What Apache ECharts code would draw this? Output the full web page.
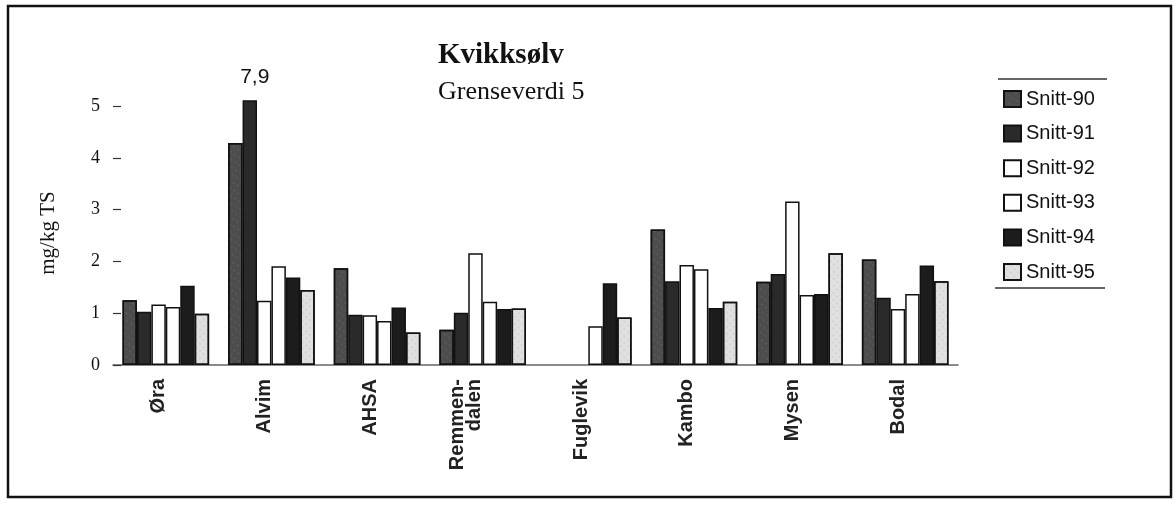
<!DOCTYPE html>
<html>
<head>
<meta charset="utf-8">
<script src="https://cdn.jsdelivr.net/npm/echarts@6/dist/echarts.min.js"></script>
<style>
html, body { margin: 0; padding: 0; background: #fff; }
#chart { width: 1176px; height: 506px; }
</style>
</head>
<body>
<div id="chart"></div>
<script>
const categories = ['Øra', 'Alvim', 'AHSA', 'Remmen-\ndalen', 'Fuglevik', 'Kambo', 'Mysen', 'Bodal']
const snitt90 = [1.25, 4.29, 1.87, 0.68, null, 2.62, 1.61, 2.04]
const snitt91 = [1.03, 7.9, 0.97, 1.01, null, 1.62, 1.76, 1.30]
const snitt92 = [1.17, 1.24, 0.96, 2.16, null, 1.93, 3.16, 1.08]
const snitt93 = [1.12, 1.91, 0.85, 1.22, 0.75, 1.85, 1.35, 1.37]
const snitt94 = [1.53, 1.69, 1.11, 1.08, 1.58, 1.10, 1.37, 1.92]
const snitt95 = [0.99, 1.45, 0.63, 1.09, 0.92, 1.22, 2.16, 1.62]
const yTicks = [0, 1, 2, 3, 4, 5]

const serif = "'Liberation Serif', 'Times New Roman', serif"
const sans = "'Liberation Sans', Arial, sans-serif"

const speckle = {
    symbol: 'circle',
    symbolSize: 0.5,
    color: 'rgba(255,255,255,0.35)',
    dashArrayX: [2, 3],
    dashArrayY: [2, 4],
    rotation: 0.6
}
const dots = {
    symbol: 'circle',
    symbolSize: 0.6,
    color: 'rgba(0,0,0,0.25)',
    dashArrayX: [2, 3],
    dashArrayY: [2, 3],
    rotation: 0.8
}

function bar (name, data, color, decal) {
    const s = {
        name: name,
        type: 'bar',
        data: data,
        barGap: 0,
        barCategoryGap: '18%',
        itemStyle: {
            color: color,
            borderColor: '#111',
            borderWidth: 1.5
        }
    }
    if (decal) s.itemStyle.decal = decal
    return s
}

const series = [
    bar('Snitt-90', snitt90, '#4d4d4d', speckle),
    bar('Snitt-91', snitt91.map((v, i) => i === 1
        ? { value: v, label: { show: true, position: 'top', distance: 13, offset: [5, 0], formatter: '7,9', fontFamily: sans, fontSize: 21, color: '#111' } }
        : v), '#2a2a2a'),
    bar('Snitt-92', snitt92, '#ffffff'),
    bar('Snitt-93', snitt93, '#ffffff'),
    bar('Snitt-94', snitt94, '#1c1c1c'),
    bar('Snitt-95', snitt95, '#e0e0e0', dots)
]

const labelFont = { fontFamily: sans, fontSize: 20, fontWeight: 'bold', color: '#222' }

const option = {
    animation: false,
    backgroundColor: '#fff',
    title: {
        text: 'Kvikksølv',
        subtext: 'Grenseverdi 5',
        left: 433,
        top: 36,
        itemGap: 9,
        textStyle: { fontFamily: serif, fontSize: 29, fontWeight: 'bold', color: '#111' },
        subtextStyle: { fontFamily: serif, fontSize: 26, color: '#111' }
    },
    legend: {
        orient: 'vertical',
        left: 998,
        top: 84,
        itemWidth: 17,
        itemHeight: 16,
        itemGap: 14.6,
        icon: 'rect',
        textStyle: { fontFamily: sans, fontSize: 20, color: '#111' },
        data: ['Snitt-90', 'Snitt-91', 'Snitt-92', 'Snitt-93', 'Snitt-94', 'Snitt-95']
    },
    grid: { left: 113, width: 845, top: 101, height: 264 },
    xAxis: {
        type: 'category',
        data: categories,
        axisLine: { lineStyle: { color: '#666', width: 1.5 } },
        axisTick: { show: false },
        axisLabel: {
            rotate: 90,
            margin: 14,
            interval: 0,
            verticalAlign: 'bottom',
            formatter: function (v) {
                if (v.indexOf('\n') < 0) return '{s|' + v + '}'
                return v.split('\n').map(p => '{m|' + p + '}').join('\n')
            },
            rich: {
                s: Object.assign({ lineHeight: 14 }, labelFont),
                m: Object.assign({ lineHeight: 17 }, labelFont)
            }
        }
    },
    yAxis: {
        type: 'value',
        min: 0,
        max: 5.1,
        name: 'mg/kg TS',
        nameLocation: 'middle',
        nameRotate: 90,
        nameGap: 54,
        nameTextStyle: { fontFamily: serif, fontSize: 21, color: '#111' },
        splitLine: { show: false },
        axisLine: { show: false },
        axisTick: { show: true, inside: true, length: 8, customValues: yTicks, lineStyle: { color: '#333', width: 1.2 } },
        axisLabel: { customValues: yTicks, margin: 13, fontFamily: serif, fontSize: 18, color: '#111' }
    },
    graphic: [
        { type: 'rect', shape: { x: 8, y: 6, width: 1163, height: 491 }, style: { fill: null, stroke: '#111', lineWidth: 2.5 }, silent: true },
        { type: 'line', shape: { x1: 998, y1: 79, x2: 1107, y2: 79 }, style: { stroke: '#333', lineWidth: 1.5 } },
        { type: 'line', shape: { x1: 995, y1: 288, x2: 1105, y2: 288 }, style: { stroke: '#333', lineWidth: 1.5 } }
    ],
    series: series
}

const myChart = echarts.init(document.getElementById('chart'))
myChart.setOption(option)
</script>
</body>
</html>
